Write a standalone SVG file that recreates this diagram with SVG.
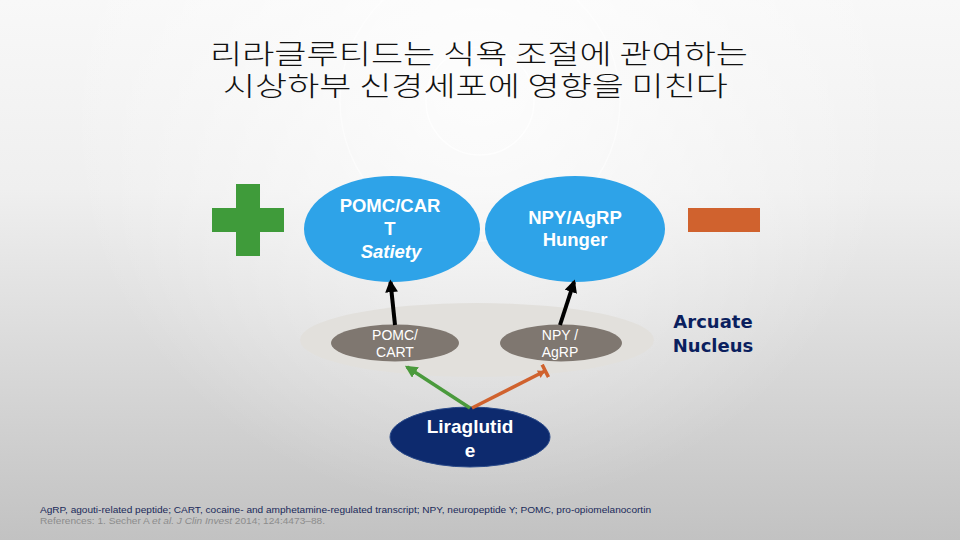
<svg xmlns="http://www.w3.org/2000/svg" width="960" height="540" viewBox="0 0 960 540">
<defs>
<linearGradient id="bg" x1="0" y1="0" x2="0" y2="1">
<stop offset="0" stop-color="#f8f8f8"/>
<stop offset="0.35" stop-color="#efefef"/>
<stop offset="1" stop-color="#c2c2c2"/>
</linearGradient>
<radialGradient id="glow" cx="480" cy="90" r="420" gradientUnits="userSpaceOnUse">
<stop offset="0" stop-color="#ffffff" stop-opacity="0.8"/>
<stop offset="1" stop-color="#ffffff" stop-opacity="0"/>
</radialGradient>
<marker id="ah" viewBox="0 0 10 10" refX="8" refY="5" markerWidth="3.2" markerHeight="3.2" orient="auto">
<path d="M0,0 L10,5 L0,10 z" fill="#000"/>
</marker>
<marker id="ahg" viewBox="0 0 10 10" refX="8" refY="5" markerWidth="3.6" markerHeight="3.6" orient="auto">
<path d="M0,0 L10,5 L0,10 z" fill="#4a9a3c"/>
</marker>
<marker id="tee" viewBox="0 0 10 10" refX="8" refY="5" markerWidth="4" markerHeight="4" orient="auto">
<path d="M3,2 L8,5 L3,8 z" fill="#d0622e"/>
<rect x="7" y="0" width="2.5" height="10" fill="#d0622e"/>
</marker>
<style>
.blue{fill:#2ea3e8}
.gray{fill:#7f7770}
.wb{font-family:"Liberation Sans",Arial,sans-serif;font-weight:bold;fill:#fff;text-anchor:middle}
.wr{font-family:"Liberation Sans",Arial,sans-serif;fill:#fff;text-anchor:middle;font-size:14px}
</style>
</defs>
<rect width="960" height="540" fill="url(#bg)"/>
<rect width="960" height="540" fill="url(#glow)"/>
<circle cx="480" cy="101" r="54" fill="none" stroke="#ffffff" stroke-width="1.5" opacity="0.7"/>
<circle cx="480" cy="101" r="140" fill="none" stroke="#ffffff" stroke-width="1.5" opacity="0.5"/>

<g id="title" font-family="'Noto Sans CJK KR','Noto Sans',sans-serif" font-size="27" font-weight="300" fill="#111" text-anchor="middle">
<text x="479" y="64" textLength="538" lengthAdjust="spacingAndGlyphs">리라글루티드는 식욕 조절에 관여하는</text>
<text x="475.5" y="95.5" textLength="505" lengthAdjust="spacingAndGlyphs">시상하부 신경세포에 영향을 미친다</text>
</g>

<g id="plus" fill="#3f9b3a">
<rect x="236" y="184" width="24" height="72"/>
<rect x="212" y="208" width="72" height="24"/>
</g>
<g id="minus"><rect x="688" y="208" width="72" height="24" fill="#d0622e"/></g>

<g id="arcuate-region"><ellipse cx="477" cy="340" rx="177" ry="37" fill="#e2e0dc"/></g>

<g id="pomc-cart-satiety">
<ellipse class="blue" cx="392" cy="229" rx="88" ry="53"/>
<text class="wb" font-size="18.5" x="390" y="212">POMC/CAR</text>
<text class="wb" font-size="18.5" x="390" y="235">T</text>
<text class="wb" font-size="18.5" x="391" y="258" font-style="italic">Satiety</text>
</g>
<g id="npy-agrp-hunger">
<ellipse class="blue" cx="575" cy="229" rx="90" ry="53"/>
<text class="wb" font-size="18.5" x="575" y="224">NPY/AgRP</text>
<text class="wb" font-size="18.5" x="575" y="246">Hunger</text>
</g>

<g id="pomc-cart">
<ellipse class="gray" cx="395" cy="343" rx="64" ry="18.5"/>
<text class="wr" x="395" y="340">POMC/</text>
<text class="wr" x="395" y="357">CART</text>
</g>
<g id="npy-agrp">
<ellipse class="gray" cx="561" cy="343" rx="61" ry="18.5"/>
<text class="wr" x="560" y="340">NPY /</text>
<text class="wr" x="560" y="357">AgRP</text>
</g>

<g id="liraglutide">
<ellipse cx="470" cy="437" rx="80" ry="30" fill="#0d2a6e" stroke="#2a4a8a" stroke-width="1"/>
<text class="wb" font-size="19" x="470" y="433">Liraglutid</text>
<text class="wb" font-size="19" x="470" y="457">e</text>
</g>

<g id="arcuate-label" font-family="'DejaVu Sans',sans-serif" font-weight="bold" font-size="18" fill="#0b1f5e" text-anchor="middle">
<text x="713" y="328">Arcuate</text>
<text x="713" y="352">Nucleus</text>
</g>

<g id="connectors" fill="none" stroke-width="4">
<line x1="395" y1="325" x2="390.5" y2="282" stroke="#000" marker-end="url(#ah)"/>
<line x1="560" y1="325" x2="574" y2="282" stroke="#000" marker-end="url(#ah)"/>
<line x1="470" y1="408" x2="407" y2="367" stroke="#4a9a3c" stroke-width="3.5" marker-end="url(#ahg)"/>
<line x1="472" y1="408" x2="545" y2="371" stroke="#d0622e" stroke-width="3.5" marker-end="url(#tee)"/>
</g>

<g id="footnote" font-family="'Liberation Sans',Arial,sans-serif" font-size="9">
<text x="40" y="513" fill="#1a2a5a" textLength="611" lengthAdjust="spacingAndGlyphs">AgRP, agouti-related peptide; CART, cocaine- and amphetamine-regulated transcript; NPY, neuropeptide Y; POMC, pro-opiomelanocortin</text>
<text x="40" y="524" fill="#8c8c8c" textLength="285" lengthAdjust="spacingAndGlyphs">References: 1. Secher A <tspan font-style="italic">et al. J Clin Invest</tspan> 2014; 124:4473–88.</text>
</g>
</svg>
